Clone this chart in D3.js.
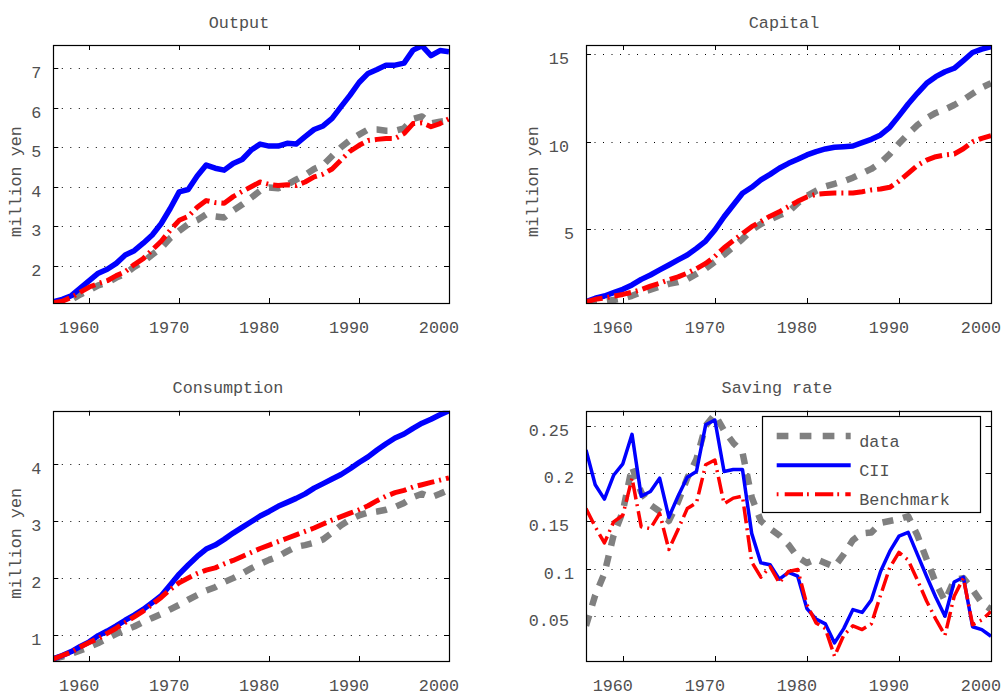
<!DOCTYPE html>
<html><head><meta charset="utf-8">
<script src="https://cdn.jsdelivr.net/npm/d3@7/dist/d3.min.js"></script>
<style>
body{margin:0;background:#fff}
svg text{font-family:"Liberation Mono","Courier New",monospace;font-size:16.8px;fill:#505050}
</style>
</head><body>
<svg id="chart" width="1002" height="695"></svg>
<script>
// ---------- data ----------
const years = [1956,1957,1958,1959,1960,1961,1962,1963,1964,1965,1966,1967,1968,1969,1970,
  1971,1972,1973,1974,1975,1976,1977,1978,1979,1980,1981,1982,1983,1984,1985,
  1986,1987,1988,1989,1990,1991,1992,1993,1994,1995,1996,1997,1998,1999,2000];
const xTicks = [1960,1970,1980,1990,2000];
const seriesNames = ["data","CII","Benchmark"];
const panelTitles = ["Output","Capital","Consumption","Saving rate"];
const yLabel = "million yen";

const outputData = [1.06,1.08,1.14,1.27,1.38,1.50,1.57,1.70,1.80,1.97,2.10,2.28,2.45,2.70,2.88,
  3.05,3.15,3.30,3.25,3.22,3.40,3.55,3.72,3.90,3.98,3.96,4.05,4.18,4.30,4.45,
  4.55,4.78,5.00,5.18,5.32,5.45,5.45,5.42,5.42,5.48,5.72,5.78,5.60,5.65,5.68];
const outputCII = [1.09,1.15,1.24,1.43,1.62,1.81,1.91,2.06,2.27,2.38,2.57,2.78,3.07,3.45,3.87,
  3.93,4.27,4.55,4.47,4.42,4.59,4.69,4.93,5.08,5.03,5.03,5.10,5.08,5.27,5.45,
  5.54,5.73,6.03,6.32,6.64,6.87,6.97,7.08,7.08,7.13,7.46,7.57,7.32,7.45,7.42];
const outputBench = [1.06,1.10,1.20,1.33,1.46,1.55,1.62,1.75,1.85,2.03,2.18,2.40,2.62,2.90,3.15,
  3.25,3.48,3.65,3.60,3.58,3.75,3.88,4.00,4.12,4.06,4.03,4.05,4.03,4.12,4.25,
  4.32,4.45,4.68,4.90,5.05,5.17,5.20,5.22,5.22,5.35,5.60,5.62,5.52,5.60,5.72];

const capitalData = [0.80,0.82,0.88,0.96,1.05,1.20,1.40,1.55,1.72,1.88,1.98,2.15,2.45,2.75,3.15,
  3.55,4.00,4.45,4.95,5.30,5.55,5.80,6.00,6.50,6.90,7.20,7.45,7.60,7.75,7.95,
  8.20,8.45,8.80,9.30,9.90,10.45,10.95,11.35,11.65,11.85,12.10,12.40,12.75,13.10,13.35];
const capitalCII = [0.87,1.06,1.19,1.38,1.57,1.82,2.14,2.39,2.68,2.96,3.25,3.53,3.91,4.33,4.96,
  5.72,6.39,7.06,7.40,7.82,8.14,8.49,8.77,9.00,9.25,9.44,9.59,9.69,9.72,9.76,
  9.95,10.14,10.39,10.83,11.48,12.16,12.77,13.34,13.72,14.00,14.20,14.64,15.10,15.29,15.44];
const capitalBench = [0.85,1.00,1.08,1.18,1.28,1.40,1.55,1.75,1.92,2.12,2.28,2.50,2.75,3.05,3.45,
  3.95,4.35,4.75,5.15,5.45,5.75,6.00,6.30,6.60,6.85,7.00,7.05,7.08,7.08,7.08,
  7.15,7.25,7.30,7.40,7.75,8.20,8.65,8.95,9.15,9.25,9.30,9.60,10.00,10.20,10.35];

const consData = [0.58,0.62,0.67,0.73,0.79,0.86,0.94,1.02,1.09,1.15,1.23,1.30,1.37,1.45,1.53,
  1.62,1.70,1.78,1.84,1.93,2.00,2.08,2.17,2.25,2.32,2.38,2.47,2.55,2.58,2.62,
  2.68,2.80,2.93,3.03,3.10,3.15,3.17,3.20,3.25,3.32,3.42,3.48,3.42,3.48,3.55];
const consCII = [0.58,0.64,0.71,0.80,0.88,0.99,1.07,1.16,1.26,1.35,1.45,1.57,1.69,1.88,2.07,
  2.23,2.38,2.51,2.58,2.68,2.79,2.89,2.99,3.09,3.17,3.26,3.33,3.40,3.48,3.58,
  3.66,3.74,3.82,3.92,4.03,4.13,4.25,4.36,4.46,4.53,4.63,4.72,4.79,4.87,4.94];
const consBench = [0.58,0.64,0.70,0.79,0.87,0.94,1.03,1.12,1.22,1.32,1.42,1.54,1.66,1.80,1.92,
  2.00,2.08,2.14,2.18,2.25,2.31,2.38,2.45,2.52,2.58,2.64,2.70,2.76,2.82,2.88,
  2.95,3.02,3.08,3.14,3.20,3.27,3.36,3.44,3.50,3.54,3.60,3.64,3.68,3.72,3.76];

const saveData = [0.040,0.072,0.095,0.135,0.160,0.207,0.180,0.167,0.160,0.150,0.170,0.195,0.215,0.250,0.262,
  0.245,0.232,0.222,0.175,0.150,0.142,0.135,0.125,0.112,0.106,0.110,0.106,0.102,0.115,0.130,
  0.137,0.138,0.148,0.150,0.152,0.155,0.135,0.110,0.085,0.066,0.088,0.090,0.078,0.064,0.057];
const saveCII = [0.2245,0.188,0.173,0.198,0.210,0.241,0.176,0.181,0.195,0.154,0.176,0.196,0.202,0.251,0.256,
  0.202,0.204,0.204,0.137,0.106,0.104,0.089,0.096,0.092,0.058,0.047,0.042,0.022,0.037,0.057,
  0.054,0.067,0.097,0.118,0.134,0.138,0.115,0.092,0.070,0.050,0.086,0.091,0.039,0.036,0.029];
const saveBench = [0.163,0.144,0.127,0.149,0.156,0.195,0.144,0.142,0.158,0.120,0.141,0.163,0.169,0.209,0.214,
  0.168,0.174,0.176,0.107,0.091,0.102,0.085,0.097,0.099,0.062,0.043,0.037,0.008,0.030,0.040,
  0.036,0.042,0.072,0.101,0.117,0.109,0.088,0.066,0.047,0.030,0.071,0.090,0.041,0.046,0.055];

const outputTicks = [2,3,4,5,6,7];
const capitalTicks = [5,10,15];
const consTicks = [1,2,3,4];
const saveTicks = [0.05,0.1,0.15,0.2,0.25];

const outputRange = [1.056,7.59];
const capitalRange = [0.79,15.53];
const consRange = [0.544,4.94];
const saveRange = [0.003,0.2658];

// ---------- layout ----------
const svg = d3.select("#chart");
const colors = {data:"#808080", CII:"#0000ff", Benchmark:"#ff0000"};
const dashes = {data:"11,10", CII:null, Benchmark:"17,5,2,5"};

const panels = [
  {title:panelTitles[0], x0:53.3, x1:449, y0:45, y1:303, dom:outputRange, ticks:outputTicks,
   s:[outputData,outputCII,outputBench], w:[6.5,5.5,5], titleX:239, titleY:28, ylab:true, ylabX:20.7, ylabY:181.5},
  {title:panelTitles[1], x0:586, x1:991, y0:45, y1:303, dom:capitalRange, ticks:capitalTicks,
   s:[capitalData,capitalCII,capitalBench], w:[6.5,5.5,5], titleX:784, titleY:28, ylab:true, ylabX:537.7, ylabY:181.5},
  {title:panelTitles[2], x0:53.3, x1:449, y0:410.7, y1:661, dom:consRange, ticks:consTicks,
   s:[consData,consCII,consBench], w:[6.5,5.5,5], titleX:228, titleY:393.3, ylab:true, ylabX:20.7, ylabY:543.3},
  {title:panelTitles[3], x0:586, x1:991, y0:410.7, y1:661, dom:saveRange, ticks:saveTicks,
   s:[saveData,saveCII,saveBench], w:[6.5,3.5,3.5], titleX:777, titleY:393.3, ylab:false}
];

panels.forEach((p,i)=>{
  const x = d3.scaleLinear().domain([years[0], years[years.length-1]]).range([p.x0,p.x1]);
  const y = d3.scaleLinear().domain(p.dom).range([p.y1,p.y0]);
  const g = svg.append("g");
  const clipId = "clip"+i;
  svg.append("defs").append("clipPath").attr("id",clipId)
    .append("rect").attr("x",p.x0).attr("y",p.y0).attr("width",p.x1-p.x0).attr("height",p.y1-p.y0);

  // grid
  g.selectAll(".grid").data(p.ticks).enter().append("line")
    .attr("x1",p.x0).attr("x2",p.x1)
    .attr("y1",d=>Math.round(y(d))+0.5).attr("y2",d=>Math.round(y(d))+0.5)
    .attr("stroke","#000").attr("stroke-width",1).attr("stroke-dasharray","1,7.5");

  // ticks inside
  const tl = 5;
  xTicks.forEach(t=>{
    const xx = Math.round(x(t))+0.5;
    g.append("line").attr("x1",xx).attr("x2",xx).attr("y1",p.y1).attr("y2",p.y1-tl).attr("stroke","#000");
    g.append("line").attr("x1",xx).attr("x2",xx).attr("y1",p.y0).attr("y2",p.y0+tl).attr("stroke","#000");
    g.append("text").attr("x",x(t)-10).attr("y",p.y1+30).attr("text-anchor","middle").text(t);
  });
  p.ticks.forEach(t=>{
    const yy = Math.round(y(t))+0.5;
    g.append("line").attr("x1",p.x0).attr("x2",p.x0+tl).attr("y1",yy).attr("y2",yy).attr("stroke","#000");
    g.append("line").attr("x1",p.x1).attr("x2",p.x1-tl).attr("y1",yy).attr("y2",yy).attr("stroke","#000");
    const lab = String(t);
    const gap = 12 + (lab.length%2===0 ? 5 : 0);
    g.append("text").attr("x",p.x0-gap).attr("y",y(t)+10).attr("text-anchor","end").text(lab);
  });

  // series
  const line = d3.line().x((d,k)=>x(years[k])).y(d=>y(d));
  const lg = g.append("g").attr("clip-path",`url(#${clipId})`);
  p.s.forEach((vals,k)=>{
    const name = seriesNames[k];
    const path = lg.append("path").datum(vals).attr("d",line)
      .attr("fill","none").attr("stroke",colors[name]).attr("stroke-width",p.w[k])
      .attr("stroke-linejoin","round");
    if(dashes[name]) path.attr("stroke-dasharray",dashes[name]);
  });

  // box
  g.append("rect").attr("x",Math.round(p.x0)+0.5).attr("y",Math.round(p.y0)+0.5)
    .attr("width",Math.round(p.x1)-Math.round(p.x0)).attr("height",Math.round(p.y1)-Math.round(p.y0))
    .attr("fill","none").attr("stroke","#000").attr("stroke-width",1.2);

  // title
  g.append("text").attr("x",p.titleX).attr("y",p.titleY).attr("text-anchor","middle").text(p.title);
  if(p.ylab){
    g.append("text").attr("transform",`translate(${p.ylabX},${p.ylabY}) rotate(-90)`)
      .attr("text-anchor","middle").text(yLabel);
  }

  // legend in saving panel
  if(i===3){
    const L = g.append("g");
    L.append("rect").attr("x",762.5).attr("y",416.5).attr("width",218).attr("height",96)
      .attr("fill","#fff").attr("stroke","#000").attr("stroke-width",1.2);
    const ly = [436,465.3,494.3];
    const lw = [6.5,4,4];
    seriesNames.forEach((name,k)=>{
      const ln = L.append("line").attr("x1",776.7).attr("x2",850.7).attr("y1",ly[k]).attr("y2",ly[k])
        .attr("stroke",colors[name]).attr("stroke-width",lw[k]);
      if(name==="data") ln.attr("stroke-dasharray","11.7,11.3");
      if(name==="Benchmark") ln.attr("stroke-dasharray","1.8,6.2,18.3,4");
      L.append("text").attr("x",859.3).attr("y",ly[k]+10.5).text(name);
    });
  }
});
</script>
</body></html>
